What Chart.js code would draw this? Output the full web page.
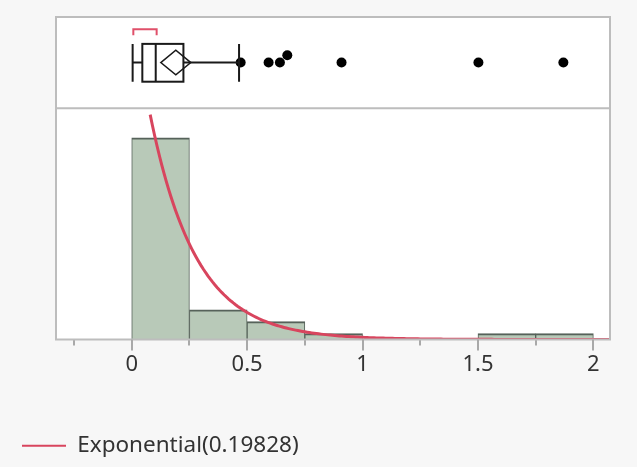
<!DOCTYPE html>
<html>
<head>
<meta charset="utf-8">
<script src="https://cdn.jsdelivr.net/npm/chart.js@4.4.1/dist/chart.umd.min.js"></script>
<style>
  html, body { margin: 0; padding: 0; background: #f7f7f7; }
  #wrap { width: 637px; height: 467px; position: relative; }
</style>
</head>
<body>
<div id="wrap"><canvas id="distChart"></canvas></div>
<script>
// histogram: lower bin edges and counts
const binStarts = [0, 0.25, 0.5, 0.75, 1, 1.25, 1.5, 1.75];
const binCounts = [34, 5, 3, 1, 0, 0, 1, 1];
const binWidth = 0.25;

// fitted exponential (scale = sample mean)
const expScale = 0.19828;
const fitLabel = 'Exponential(0.19828)';

// outlier box plot summary
const boxMin = 0.004;
const boxQ1 = 0.046;
const boxMedian = 0.104;
const boxQ3 = 0.224;
const whiskerHigh = 0.465;
const meanDiamond = [0.126, 0.256];
const shortestHalf = [0.007, 0.108];
const outliers = [0.472, 0.593, 0.642, 0.674, 0.909, 1.502, 1.87];

// x axis
const tickValues = [-0.25, 0, 0.25, 0.5, 0.75, 1, 1.25, 1.5, 1.75, 2];
const tickLabels = ['', '0', '', '0.5', '', '1', '', '1.5', '', '2'];
const xMin = -0.328;
const xMax = 2.072;

const fontFamily = '"Noto Sans", "Open Sans", sans-serif';
const textColor = '#333333';
const frameColor = '#bdbdbd';

// density curve scaled to counts
const total = binCounts.reduce((a, b) => a + b, 0);
const curvePoints = [];
for (let x = 0.08; x <= xMax + 0.0001; x += 0.01) {
    curvePoints.push({ x: x, y: total * binWidth / expScale * Math.exp(-x / expScale) });
}

// small vertical offset so overlapping outliers stay visible
const outlierLift = [0, 0, 0, 0.08, 0, 0, 0];

// white plot area, border, divider between box plot and histogram
const framePlugin = {
    id: 'frame',
    beforeDatasetsDraw(chart) {
        const { ctx, chartArea: a } = chart;
        ctx.save();
        ctx.fillStyle = '#ffffff';
        ctx.fillRect(a.left, a.top, a.width, a.height);
        ctx.restore();
    },
    afterDraw(chart) {
        const { ctx, chartArea: a, scales } = chart;
        ctx.save();
        ctx.strokeStyle = frameColor;
        ctx.lineWidth = 2;
        ctx.strokeRect(a.left, a.top, a.width, a.height);
        ctx.beginPath();
        ctx.moveTo(a.left, scales.yBox.bottom);
        ctx.lineTo(a.right, scales.yBox.bottom);
        ctx.stroke();
        // longer tick marks under the labelled values
        ctx.strokeStyle = '#a9a9a9';
        tickValues.forEach((v, i) => {
            if (!tickLabels[i]) return;
            const px = Math.round(scales.x.getPixelForValue(v));
            ctx.beginPath();
            ctx.moveTo(px, a.bottom);
            ctx.lineTo(px, a.bottom + 11);
            ctx.stroke();
        });
        ctx.restore();
    }
};

// box, whiskers, mean diamond and shortest-half bracket
const boxPlotPlugin = {
    id: 'boxPlot',
    afterDatasetsDraw(chart) {
        const { ctx, scales } = chart;
        const x = v => scales.x.getPixelForValue(v);
        const y = v => scales.yBox.getPixelForValue(v);
        const top = y(0.705), bottom = y(0.29), mid = y(0.5);
        ctx.save();
        ctx.strokeStyle = '#1a1a1a';
        ctx.lineWidth = 2;
        ctx.beginPath();
        // whiskers
        ctx.moveTo(x(boxMin), mid); ctx.lineTo(x(boxQ1), mid);
        ctx.moveTo(x(boxQ3), mid); ctx.lineTo(x(whiskerHigh), mid);
        ctx.moveTo(x(boxMin), top); ctx.lineTo(x(boxMin), bottom);
        ctx.moveTo(x(whiskerHigh), top); ctx.lineTo(x(whiskerHigh), bottom);
        // median
        ctx.moveTo(x(boxMedian), top); ctx.lineTo(x(boxMedian), bottom);
        ctx.stroke();
        ctx.strokeRect(x(boxQ1), top, x(boxQ3) - x(boxQ1), bottom - top);
        // mean diamond
        const cx = (x(meanDiamond[0]) + x(meanDiamond[1])) / 2;
        ctx.lineWidth = 1.5;
        ctx.beginPath();
        ctx.moveTo(x(meanDiamond[0]), mid);
        ctx.lineTo(cx, y(0.635));
        ctx.lineTo(x(meanDiamond[1]), mid);
        ctx.lineTo(cx, y(0.365));
        ctx.closePath();
        ctx.stroke();
        // shortest half bracket
        ctx.strokeStyle = '#e0506a';
        ctx.lineWidth = 2;
        ctx.beginPath();
        ctx.moveTo(x(shortestHalf[0]), y(0.8));
        ctx.lineTo(x(shortestHalf[0]), y(0.865));
        ctx.lineTo(x(shortestHalf[1]), y(0.865));
        ctx.lineTo(x(shortestHalf[1]), y(0.8));
        ctx.stroke();
        ctx.restore();
    }
};

function createDistributionChart() {
    const ctx = document.getElementById('distChart').getContext('2d');
    new Chart(ctx, {
        type: 'bar',
        data: {
            datasets: [{
                type: 'line',
                label: fitLabel,
                data: curvePoints,
                borderColor: '#d8455e',
                borderWidth: 3,
                pointRadius: 0,
                xAxisID: 'x',
                yAxisID: 'y',
                order: 0
            }, {
                type: 'bar',
                label: 'Histogram',
                data: binStarts.map((b, i) => ({ x: b + binWidth / 2, y: binCounts[i] })),
                backgroundColor: '#b8c9b8',
                borderColor: '#56625a',
                borderWidth: { top: 2, left: 1, right: 1, bottom: 0 },
                borderSkipped: false,
                barPercentage: 1,
                categoryPercentage: 1,
                xAxisID: 'x',
                yAxisID: 'y',
                order: 1
            }, {
                type: 'scatter',
                label: 'Outliers',
                data: outliers.map((v, i) => ({ x: v, y: 0.5 + outlierLift[i] })),
                backgroundColor: '#000000',
                borderWidth: 0,
                pointRadius: 5,
                xAxisID: 'x',
                yAxisID: 'yBox',
                order: 2
            }]
        },
        options: {
            responsive: true,
            maintainAspectRatio: false,
            animation: false,
            layout: { padding: { top: 17, right: 27, left: 12, bottom: 0 } },
            scales: {
                x: {
                    type: 'linear',
                    offset: false,
                    min: xMin,
                    max: xMax,
                    afterBuildTicks: scale => { scale.ticks = tickValues.map(v => ({ value: v })); },
                    afterFit: scale => { scale.height = 85; },
                    ticks: {
                        autoSkip: false,
                        maxRotation: 0,
                        padding: 6,
                        color: textColor,
                        font: { family: fontFamily, size: 22 },
                        callback: value => tickLabels[tickValues.indexOf(value)]
                    },
                    grid: { offset: false, drawOnChartArea: false, tickLength: 6, color: '#a9a9a9', lineWidth: 2 },
                    border: { display: false }
                },
                y: {
                    type: 'linear',
                    position: 'left',
                    stack: 'plot',
                    stackWeight: 231,
                    min: 0,
                    max: 39,
                    afterFit: scale => { scale.width = 44; },
                    ticks: { display: false },
                    grid: { display: false },
                    border: { display: false }
                },
                yBox: {
                    type: 'linear',
                    position: 'left',
                    stack: 'plot',
                    stackWeight: 91,
                    min: 0,
                    max: 1,
                    afterFit: scale => { scale.width = 44; },
                    ticks: { display: false },
                    grid: { display: false },
                    border: { display: false }
                }
            },
            plugins: {
                tooltip: { enabled: false },
                legend: {
                    position: 'bottom',
                    align: 'start',
                    labels: {
                        filter: item => item.text === fitLabel,
                        generateLabels: chart => Chart.defaults.plugins.legend.labels.generateLabels(chart)
                            .map(item => Object.assign(item, { lineWidth: 2 })),
                        usePointStyle: true,
                        pointStyle: 'line',
                        pointStyleWidth: 44,
                        padding: 10,
                        color: textColor,
                        font: { family: fontFamily, size: 22.5 }
                    }
                }
            }
        },
        plugins: [framePlugin, boxPlotPlugin]
    });
}

window.onload = function() {
    createDistributionChart();
};
</script>
</body>
</html>
